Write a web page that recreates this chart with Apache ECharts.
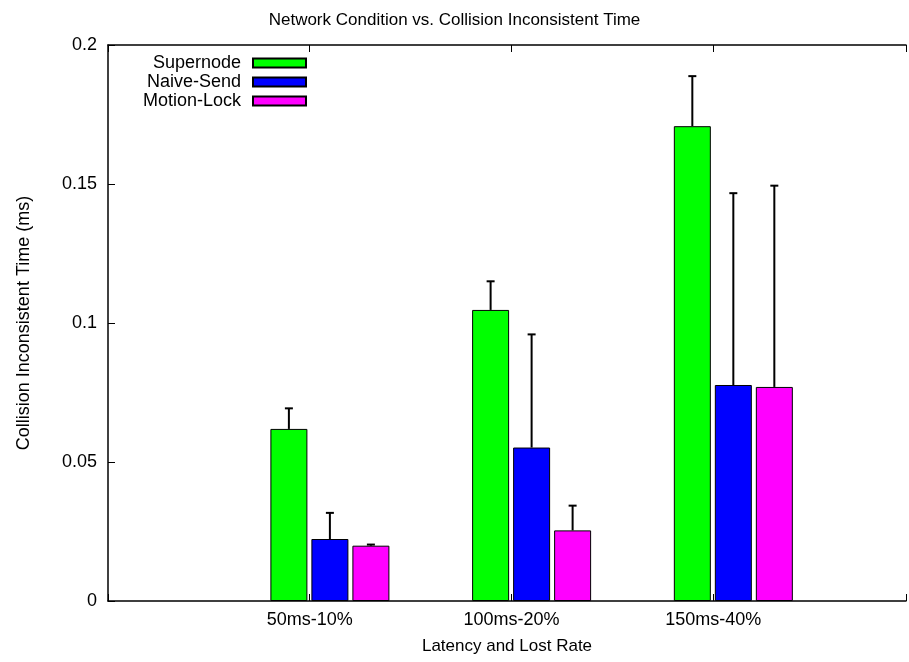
<!DOCTYPE html>
<html>
<head>
<meta charset="utf-8">
<script src="https://cdn.jsdelivr.net/npm/echarts@6/dist/echarts.min.js"></script>
<style>
html,body{margin:0;padding:0;background:#fff;}
#chart{width:909px;height:662px;}
</style>
</head>
<body>
<div id="chart"></div>
<script>
// ---- data ----
const categories = ['50ms-10%', '100ms-20%', '150ms-40%'];
const seriesNames = ['Supernode', 'Naive-Send', 'Motion-Lock'];
const supernode = [0.0619, 0.1047, 0.1708];
const supernodeErrTop = [0.0693, 0.1150, 0.1888];
const naiveSend = [0.0223, 0.0552, 0.0777];
const naiveSendErrTop = [0.0317, 0.0959, 0.1467];
const motionLock = [0.0199, 0.0254, 0.0770];
const motionLockErrTop = [0.0203, 0.0343, 0.1494];
const yTickLabels = ['0', '0.05', '0.1', '0.15', '0.2'];

// ---- styling / layout constants ----
const FONT = '"Liberation Sans", Arial, Helvetica, sans-serif';
const colors = ['#00ff00', '#0000ff', '#ff00ff'];
const values = [supernode, naiveSend, motionLock];
const errTops = [supernodeErrTop, naiveSendErrTop, motionLockErrTop];
const BAR_W = 37;
const BAR_GAP_PX = 4;
const GROUP_SHIFT = 0.1; // middle bar centre relative to the category tick (axis units)
const X_MIN = -1, X_MAX = 2.956;

const chart = echarts.init(document.getElementById('chart'), null, {renderer: 'canvas'});

const barSeries = seriesNames.map((name, s) => ({
  name: name,
  type: 'bar',
  barWidth: BAR_W,
  barGap: (BAR_GAP_PX / BAR_W * 100) + '%',
  itemStyle: {color: colors[s], borderColor: '#000', borderWidth: 1},
  emphasis: {disabled: true},
  data: values[s].map((v, i) => [i + GROUP_SHIFT, v]),
  z: 2
}));

const errData = [];
seriesNames.forEach((name, s) => {
  values[s].forEach((v, i) => {
    errData.push([i + GROUP_SHIFT, v, errTops[s][i], s]);
  });
});

const errSeries = {
  type: 'custom',
  z: 5,
  silent: true,
  renderItem: function (params, api) {
    const x = api.value(0), v = api.value(1), top = api.value(2), s = api.value(3);
    const p0 = api.coord([x, v]);
    const p1 = api.coord([x, top]);
    const cx = p0[0] + (s - 1) * (BAR_W + BAR_GAP_PX);
    const capHalf = 4;
    return {
      type: 'group',
      children: [
        {type: 'line', shape: {x1: cx, y1: p0[1], x2: cx, y2: p1[1]},
         style: {stroke: '#000', lineWidth: 2}},
        {type: 'line', shape: {x1: cx - capHalf, y1: p1[1], x2: cx + capHalf, y2: p1[1]},
         style: {stroke: '#000', lineWidth: 2}}
      ]
    };
  },
  data: errData
};

const option = {
  animation: false,
  backgroundColor: '#ffffff',
  textStyle: {fontFamily: FONT, color: '#000'},
  title: {
    text: 'Network Condition vs. Collision Inconsistent Time',
    left: 'center',
    top: 7,
    textStyle: {fontFamily: FONT, fontSize: 17, fontWeight: 'normal', color: '#000'}
  },
  legend: {
    data: seriesNames,
    orient: 'vertical',
    left: 139,
    top: 54,
    padding: 0,
    align: 'right',
    icon: 'rect',
    itemWidth: 53,
    itemHeight: 9,
    itemGap: 1,
    selectedMode: false,
    textStyle: {fontFamily: FONT, fontSize: 18, color: '#000', width: 102, align: 'right',
                lineHeight: 18, padding: [0, 7, 0, 0]}
  },
  grid: {left: 108, right: -4, top: 45, bottom: 61, containLabel: false},
  xAxis: [
    {
      type: 'value',
      min: X_MIN,
      max: X_MAX,
      interval: 1,
      position: 'bottom',
      name: 'Latency and Lost Rate',
      nameLocation: 'middle',
      nameGap: 37,
      nameTextStyle: {fontFamily: FONT, fontSize: 17, color: '#000'},
      axisLine: {show: true, onZero: false, lineStyle: {color: '#000', width: 1.5}},
      axisTick: {show: true, inside: true, length: 7, lineStyle: {color: '#000', width: 1}},
      splitLine: {show: false},
      axisLabel: {
        show: true,
        margin: 10,
        fontFamily: FONT,
        fontSize: 18,
        color: '#000',
        showMinLabel: true,
        showMaxLabel: true,
        formatter: function (v) {
          const r = Math.round(v);
          if (Math.abs(v - r) < 1e-6 && r >= 0 && r < categories.length) return categories[r];
          return '';
        }
      }
    },
    {
      type: 'value',
      min: X_MIN,
      max: X_MAX,
      interval: 1,
      position: 'top',
      axisLine: {show: true, onZero: false, lineStyle: {color: '#000', width: 1.5}},
      axisTick: {show: true, inside: true, length: 7, lineStyle: {color: '#000', width: 1}},
      splitLine: {show: false},
      axisLabel: {show: false}
    }
  ],
  yAxis: {
    type: 'value',
    min: 0,
    max: 0.2,
    interval: 0.05,
    position: 'left',
    name: 'Collision Inconsistent Time (ms)',
    nameLocation: 'middle',
    nameGap: 75,
    nameTextStyle: {fontFamily: FONT, fontSize: 18, color: '#000'},
    axisLine: {show: true, onZero: false, lineStyle: {color: '#000', width: 1.5}},
    axisTick: {show: true, inside: true, length: 7, lineStyle: {color: '#000', width: 1}},
    splitLine: {show: false},
    axisLabel: {
      margin: 11,
      fontFamily: FONT,
      fontSize: 18,
      color: '#000',
      formatter: function (v) {
        const idx = Math.round(v / 0.05);
        return yTickLabels[idx] !== undefined ? yTickLabels[idx] : '';
      }
    }
  },
  series: barSeries.concat([errSeries])
};

chart.setOption(option);
</script>
</body>
</html>
